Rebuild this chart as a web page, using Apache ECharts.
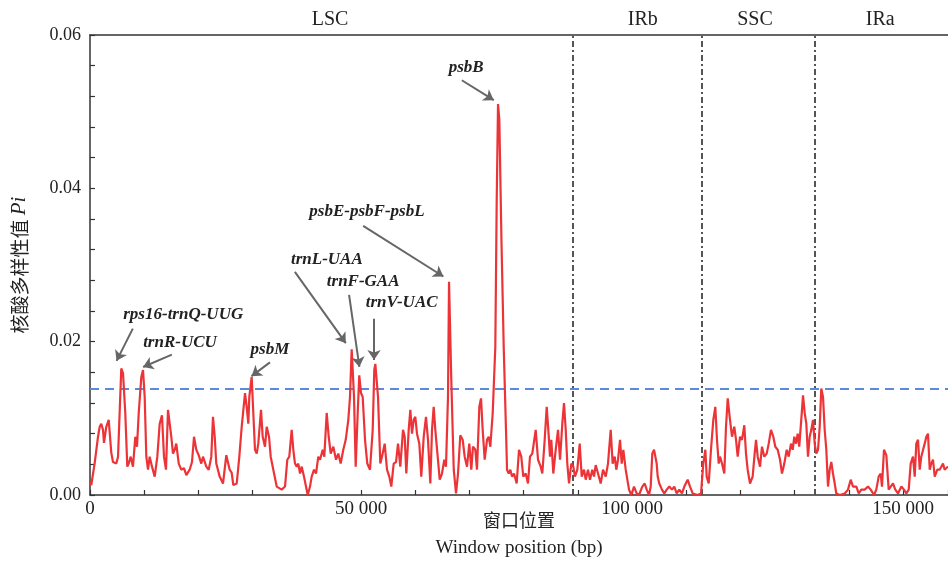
<!DOCTYPE html>
<html>
<head>
<meta charset="utf-8">
<script src="https://cdn.jsdelivr.net/npm/echarts@6/dist/echarts.min.js"></script>
<style>
  html, body { margin: 0; padding: 0; background: #fff; }
  #piChart { width: 948px; height: 569px; }
</style>
</head>
<body>
<div id="piChart"></div>
<script>
// window midpoint (bp)
var positions = [
  0, 240, 870, 1480, 1790, 2080, 2400, 2580, 3010, 3450, 3930, 4240, 4850, 5170, 5770, 6090, 6510, 6880, 7140, 7510,
  7930, 8360, 8670, 8990, 9470, 9780, 10090, 10390, 10700, 11010, 11440, 11940, 12420, 12860, 13280, 13650, 14020, 14390, 14700, 15000,
  15310, 15630, 15920, 16370, 16840, 17340, 17770, 18390, 18820, 19190, 19610, 20050, 20530, 20850, 21460, 21900, 22380, 22690, 23010, 23300,
  23930, 24540, 25150, 25770, 26140, 26440, 27070, 27550, 27990, 28280, 28600, 28910, 29210, 29390, 29830, 30130, 30440, 30760, 31050, 31550,
  31860, 32290, 32600, 33030, 33340, 33820, 34450, 35370, 35980, 36400, 36770, 37210, 37510, 37820, 38140, 38430, 38750, 39060, 39480, 39850,
  40170, 40590, 40900, 41330, 41700, 42120, 42440, 42930, 43230, 43670, 44040, 44410, 44890, 45390, 45810, 46250, 46730, 47180, 47660, 47970,
  48280, 48710, 49020, 49390, 49680, 50000, 50310, 50740, 51160, 51660, 52160, 52450, 52640, 53140, 53560, 53870, 54370, 54800, 55220, 55590,
  56030, 56460, 56830, 57250, 57750, 58060, 58360, 58800, 59100, 59410, 59720, 60020, 60330, 60760, 61120, 61570, 61990, 62360, 62790, 63100,
  63410, 63710, 64150, 64520, 64940, 65370, 65680, 66050, 66240, 66660, 67110, 67530, 67900, 68320, 68760, 69130, 69560, 69980, 70350, 70660,
  71090, 71400, 71830, 72140, 72450, 72820, 73250, 73560, 73860, 74300, 74780, 75030, 75280, 75520, 75920, 76330, 76750, 76940, 77250, 77550,
  77860, 78230, 78720, 79150, 79570, 79940, 80390, 80810, 81180, 81600, 82230, 82660, 83150, 83450, 83890, 84260, 84560, 84870, 85110, 85480,
  85920, 86350, 86720, 87140, 87450, 87770, 88060, 88380, 88800, 89170, 89480, 89910, 90350, 90720, 91140, 91460, 91880, 92250, 92670, 92990,
  93300, 93730, 94220, 94650, 95150, 95570, 96070, 96430, 96810, 97100, 97420, 97790, 98100, 98400, 98840, 99450, 99870, 100370, 100860, 101290,
  101900, 102340, 102710, 103140, 103450, 103740, 104060, 104550, 104740, 105030, 105530, 105960, 106400, 106880, 107380, 107800, 108240, 108720, 109220, 109650,
  110270, 110700, 111200, 112120, 112730, 113150, 113530, 113780, 114150, 114570, 115000, 115370, 115680, 116000, 116240, 116600, 117030, 117340, 117660, 118080,
  118450, 118870, 119190, 119500, 119930, 120290, 120720, 121030, 121340, 121770, 122260, 122630, 122880, 123190, 123620, 123980, 124410, 124850, 125220, 125640,
  126070, 126440, 126880, 127310, 127670, 128100, 128540, 128910, 129330, 129650, 129940, 130260, 130570, 130860, 131360, 131550, 131860, 132160, 132470, 132780,
  133080, 133390, 133710, 134000, 134320, 134630, 134920, 135240, 135550, 135850, 136160, 136470, 136770, 137080, 137400, 137690, 138320, 139240, 139850, 140350,
  140770, 141390, 141830, 142300, 142930, 143540, 144040, 144650, 145070, 145510, 145880, 146120, 146490, 146920, 147360, 147730, 148150, 148580, 149080, 149690,
  150180, 150610, 151050, 151420, 151840, 152160, 152450, 152770, 153080, 153370, 153690, 154000, 154300, 154610, 154930, 155220, 155530, 155850, 156330, 156770,
  157380, 157680, 158300
];

// nucleotide diversity Pi
var piValues = [
  0.0017, 0.0013, 0.0042, 0.0076, 0.0089, 0.0093, 0.0085, 0.0068, 0.0089, 0.0098, 0.0055, 0.0043, 0.0041, 0.0050, 0.0165, 0.0159, 0.0107, 0.0037, 0.0041, 0.0050,
  0.0037, 0.0076, 0.0063, 0.0107, 0.0154, 0.0163, 0.0128, 0.0050, 0.0033, 0.0050, 0.0037, 0.0024, 0.0050, 0.0093, 0.0104, 0.0050, 0.0033, 0.0111, 0.0109, 0.0076,
  0.0054, 0.0059, 0.0067, 0.0041, 0.0033, 0.0035, 0.0026, 0.0033, 0.0043, 0.0076, 0.0059, 0.0052, 0.0041, 0.0050, 0.0037, 0.0033, 0.0050, 0.0102, 0.0076, 0.0041,
  0.0024, 0.0015, 0.0052, 0.0033, 0.0029, 0.0013, 0.0015, 0.0050, 0.0089, 0.0091, 0.0133, 0.0115, 0.0093, 0.0128, 0.0154, 0.0107, 0.0059, 0.0054, 0.0067, 0.0111,
  0.0076, 0.0063, 0.0089, 0.0076, 0.0050, 0.0033, 0.0011, 0.0007, 0.0011, 0.0046, 0.0050, 0.0085, 0.0059, 0.0041, 0.0037, 0.0041, 0.0028, 0.0037, 0.0024, 0.0011,
  0.0000, 0.0011, 0.0024, 0.0033, 0.0028, 0.0050, 0.0046, 0.0059, 0.0050, 0.0107, 0.0076, 0.0054, 0.0063, 0.0046, 0.0054, 0.0041, 0.0059, 0.0072, 0.0098, 0.0128,
  0.0190, 0.0128, 0.0037, 0.0107, 0.0156, 0.0133, 0.0128, 0.0072, 0.0041, 0.0033, 0.0085, 0.0163, 0.0171, 0.0128, 0.0041, 0.0050, 0.0067, 0.0033, 0.0024, 0.0011,
  0.0041, 0.0043, 0.0067, 0.0037, 0.0085, 0.0076, 0.0028, 0.0085, 0.0111, 0.0080, 0.0098, 0.0102, 0.0080, 0.0067, 0.0024, 0.0076, 0.0102, 0.0072, 0.0015, 0.0085,
  0.0115, 0.0085, 0.0050, 0.0020, 0.0028, 0.0046, 0.0037, 0.0128, 0.0278, 0.0150, 0.0033, 0.0002, 0.0028, 0.0078, 0.0072, 0.0050, 0.0037, 0.0067, 0.0033, 0.0063,
  0.0059, 0.0033, 0.0115, 0.0126, 0.0085, 0.0046, 0.0072, 0.0076, 0.0063, 0.0107, 0.0193, 0.0380, 0.0510, 0.0490, 0.0330, 0.0193, 0.0085, 0.0033, 0.0028, 0.0033,
  0.0024, 0.0028, 0.0015, 0.0059, 0.0050, 0.0024, 0.0028, 0.0015, 0.0050, 0.0054, 0.0085, 0.0046, 0.0037, 0.0028, 0.0072, 0.0115, 0.0085, 0.0050, 0.0072, 0.0028,
  0.0059, 0.0085, 0.0046, 0.0093, 0.0120, 0.0085, 0.0041, 0.0015, 0.0041, 0.0037, 0.0024, 0.0033, 0.0067, 0.0024, 0.0033, 0.0020, 0.0033, 0.0020, 0.0033, 0.0024,
  0.0039, 0.0028, 0.0015, 0.0033, 0.0024, 0.0041, 0.0085, 0.0041, 0.0050, 0.0033, 0.0046, 0.0072, 0.0041, 0.0059, 0.0033, 0.0007, 0.0000, 0.0011, 0.0002, 0.0000,
  0.0011, 0.0015, 0.0007, 0.0000, 0.0011, 0.0054, 0.0059, 0.0041, 0.0024, 0.0015, 0.0007, 0.0002, 0.0007, 0.0011, 0.0007, 0.0011, 0.0002, 0.0007, 0.0002, 0.0011,
  0.0020, 0.0011, 0.0002, 0.0000, 0.0002, 0.0041, 0.0059, 0.0024, 0.0015, 0.0059, 0.0098, 0.0115, 0.0072, 0.0041, 0.0050, 0.0041, 0.0028, 0.0089, 0.0126, 0.0098,
  0.0076, 0.0089, 0.0072, 0.0050, 0.0076, 0.0072, 0.0091, 0.0054, 0.0033, 0.0015, 0.0024, 0.0054, 0.0072, 0.0050, 0.0037, 0.0063, 0.0050, 0.0054, 0.0067, 0.0085,
  0.0076, 0.0063, 0.0059, 0.0046, 0.0028, 0.0041, 0.0059, 0.0050, 0.0067, 0.0059, 0.0076, 0.0067, 0.0080, 0.0063, 0.0111, 0.0130, 0.0107, 0.0093, 0.0050, 0.0076,
  0.0085, 0.0098, 0.0067, 0.0054, 0.0059, 0.0089, 0.0139, 0.0128, 0.0085, 0.0059, 0.0011, 0.0033, 0.0043, 0.0028, 0.0015, 0.0002, 0.0000, 0.0002, 0.0007, 0.0020,
  0.0011, 0.0011, 0.0002, 0.0007, 0.0007, 0.0011, 0.0007, 0.0000, 0.0007, 0.0024, 0.0028, 0.0011, 0.0059, 0.0052, 0.0007, 0.0011, 0.0015, 0.0007, 0.0002, 0.0011,
  0.0007, 0.0002, 0.0007, 0.0041, 0.0050, 0.0024, 0.0067, 0.0072, 0.0033, 0.0050, 0.0050, 0.0067, 0.0076, 0.0080, 0.0033, 0.0041, 0.0046, 0.0024, 0.0033, 0.0033,
  0.0041, 0.0033, 0.0037
];

var threshold = 0.0139;
var regionBounds = [89000, 112900, 133700];
var regionNames = ['LSC', 'IRb', 'SSC', 'IRa'];
var regionCenters = [44300, 102000, 122700, 145800];

// gene labels: [name, text x, text y, arrow start x, arrow start y, arrow end x, arrow end y]
var geneNotes = [
  ['rps16-trnQ-UUG', 17200, 0.0235, 7900, 0.0217, 4900, 0.0175],
  ['trnR-UCU', 16600, 0.0199, 15100, 0.0183, 9800, 0.0167],
  ['psbM', 33200, 0.0189, 33200, 0.0173, 29800, 0.0155],
  ['trnL-UAA', 43700, 0.0307, 37800, 0.0291, 47200, 0.0198],
  ['trnF-GAA', 50400, 0.0278, 47800, 0.0261, 49700, 0.0167],
  ['trnV-UAC', 57500, 0.0251, 52400, 0.0230, 52400, 0.0176],
  ['psbE-psbF-psbL', 51100, 0.0370, 50400, 0.0351, 65200, 0.0285],
  ['psbB', 69400, 0.0557, 68600, 0.0541, 74500, 0.0515]
];

var X_MAX = 158300;
var serif = 'Liberation Serif, Times New Roman, serif';

var lineData = positions.map(function (p, i) { return [p, piValues[i]]; });

var myChart = echarts.init(document.getElementById('piChart'));
myChart.setOption({
  animation: false,
  textStyle: { fontFamily: serif },
  grid: { left: 90, right: 0, top: 35, bottom: 74, outerBoundsMode: 'none', containLabel: false },
  xAxis: [{
    type: 'value',
    min: 0,
    max: X_MAX,
    interval: 10000,
    name: '{cn|窗口位置}\n{en|Window position (bp)}',
    nameLocation: 'middle',
    nameGap: 11,
    nameMoveOverlap: false,
    nameTextStyle: {
      rich: {
        cn: { fontFamily: 'Noto Sans CJK SC', fontSize: 18, color: '#222', lineHeight: 28 },
        en: { fontFamily: serif, fontSize: 19, color: '#222', lineHeight: 28 }
      }
    },
    axisLine: { lineStyle: { color: '#333', width: 1.5 } },
    axisTick: { inside: true, length: 5, lineStyle: { color: '#333', width: 1.2 } },
    splitLine: { show: false },
    axisLabel: {
      interval: 0,
      fontSize: 19,
      color: '#222',
      margin: 5,
      formatter: function (v) {
        if (v % 50000 !== 0) return '';
        return v === 0 ? '0' : String(v).replace(/\B(?=(\d{3})+(?!\d))/g, ' ');
      }
    }
  }, {
    type: 'value',
    position: 'top',
    min: 0,
    max: X_MAX,
    axisLine: { show: true, onZero: false, lineStyle: { color: '#333', width: 1.5 } },
    axisTick: { show: false },
    axisLabel: { show: false },
    splitLine: { show: false }
  }],
  yAxis: {
    type: 'value',
    min: 0,
    max: 0.06,
    interval: 0.004,
    name: '{a|核酸多样性值 }{b|Pi}',
    nameLocation: 'middle',
    nameGap: 60,
    nameMoveOverlap: false,
    nameTextStyle: {
      rich: {
        a: { fontFamily: 'Noto Sans CJK SC', fontSize: 19, color: '#222' },
        b: { fontFamily: serif, fontSize: 21, fontStyle: 'italic', color: '#222' }
      }
    },
    axisLine: { show: true, lineStyle: { color: '#333', width: 1.5 } },
    axisTick: { inside: true, length: 5, lineStyle: { color: '#333', width: 1.2 } },
    splitLine: { show: false },
    axisLabel: {
      fontSize: 18,
      color: '#222',
      margin: 9,
      formatter: function (v) {
        var k = v / 0.02;
        if (Math.abs(k - Math.round(k)) > 1e-6) return '';
        return v.toFixed(2);
      }
    }
  },
  series: [{
    name: 'Pi',
    type: 'line',
    data: lineData,
    showSymbol: false,
    symbol: 'none',
    lineStyle: { color: '#ec3438', width: 2.2 },
    z: 5
  }, {
    // threshold & region borders
    type: 'line',
    data: [],
    markLine: {
      silent: true,
      symbol: 'none',
      label: { show: false },
      data: [
        [{ coord: [0, threshold], lineStyle: { color: '#5b8ad6', type: [9, 6], width: 2 } }, { coord: [X_MAX, threshold] }]
      ].concat(regionBounds.map(function (b) {
        return [{ coord: [b, 0], lineStyle: { color: '#555', type: [6, 3, 2, 3], width: 2 } }, { coord: [b, 0.06] }];
      }))
    },
    markPoint: {
      symbol: 'circle',
      symbolSize: 1,
      itemStyle: { color: 'rgba(0,0,0,0)' },
      label: { show: true, position: 'top', distance: 5, formatter: '{b}', fontFamily: serif, fontSize: 20, color: '#222' },
      data: regionNames.map(function (n, i) { return { name: n, coord: [regionCenters[i], 0.06] }; })
    },
    z: 3
  }, {
    // gene arrows and labels
    type: 'line',
    data: [],
    markLine: {
      silent: true,
      symbol: ['none', 'arrow'],
      symbolSize: 10,
      label: { show: false },
      lineStyle: { color: '#666', type: 'solid', width: 2 },
      data: geneNotes.map(function (g) {
        return [{ coord: [g[3], g[4]] }, { coord: [g[5], g[6]] }];
      })
    },
    markPoint: {
      symbol: 'circle',
      symbolSize: 1,
      itemStyle: { color: 'rgba(0,0,0,0)' },
      label: {
        show: true, position: 'inside', formatter: '{b}',
        fontFamily: serif, fontSize: 17, fontWeight: 'bold', fontStyle: 'italic', color: '#222'
      },
      data: geneNotes.map(function (g) { return { name: g[0], coord: [g[1], g[2]] }; })
    },
    z: 6
  }]
});
</script>
</body>
</html>
